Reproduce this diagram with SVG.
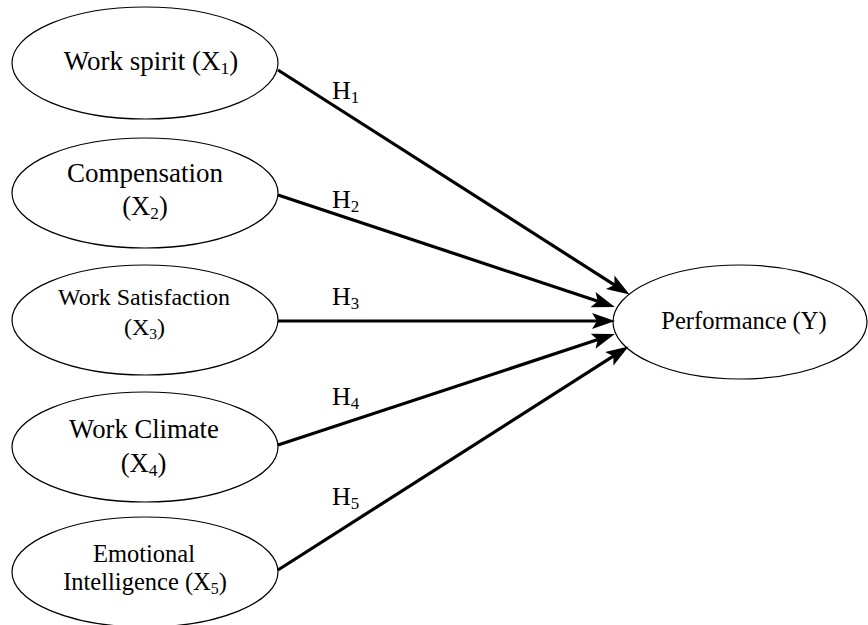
<svg xmlns="http://www.w3.org/2000/svg" width="868" height="625" viewBox="0 0 868 625">
<style>
  .node ellipse { fill: #ffffff; stroke: #000000; stroke-width: 1.2; }
  text { font-family: "Liberation Serif", "Times New Roman", serif; fill: #000000; text-anchor: middle; }
  .sub { font-size: 0.65em; }
  .conn line { stroke: #000000; stroke-width: 3.2; }
  .lbl { font-size: 26px; text-anchor: start; }
</style>
<defs>
  <marker id="arrow" markerUnits="userSpaceOnUse" markerWidth="24" markerHeight="18" refX="10" refY="8" orient="auto">
    <path d="M0,0 L23,8 L0,16 L5,8 z" fill="#000000"/>
  </marker>
</defs>
<rect width="868" height="625" fill="#ffffff"/>
<g id="x1" class="node">
  <ellipse cx="145" cy="63" rx="133" ry="56"/>
  <text x="151" y="70" font-size="27">Work spirit (X<tspan class="sub" dy="4">1</tspan><tspan dy="-4">)</tspan></text>
</g>
<g id="x2" class="node">
  <ellipse cx="145" cy="193" rx="133" ry="55"/>
  <text x="145" y="182" font-size="27">Compensation</text>
  <text x="145" y="215" font-size="26.5">(X<tspan class="sub" dy="4">2</tspan><tspan dy="-4">)</tspan></text>
</g>
<g id="x3" class="node">
  <ellipse cx="145" cy="320" rx="133" ry="55"/>
  <text x="144" y="305" font-size="24">Work Satisfaction</text>
  <text x="144.5" y="335" font-size="24">(X<tspan class="sub" dy="4">3</tspan><tspan dy="-4">)</tspan></text>
</g>
<g id="x4" class="node">
  <ellipse cx="145" cy="447" rx="133" ry="55"/>
  <text x="144" y="438" font-size="26.7">Work Climate</text>
  <text x="143.5" y="472" font-size="26.7">(X<tspan class="sub" dy="4">4</tspan><tspan dy="-4">)</tspan></text>
</g>
<g id="x5" class="node">
  <ellipse cx="145" cy="572" rx="133" ry="55"/>
  <text x="144" y="562" font-size="24.5">Emotional</text>
  <text x="145" y="590" font-size="24.5">Intelligence (X<tspan class="sub" dy="4">5</tspan><tspan dy="-4">)</tspan></text>
</g>
<g id="y" class="node">
  <ellipse cx="740" cy="322" rx="127" ry="57"/>
  <text x="744" y="329" font-size="24.5">Performance (Y)</text>
</g>
<g id="connectors" class="conn">
  <line x1="278" y1="70" x2="618.6" y2="287.6" marker-end="url(#arrow)"/>
  <line x1="278" y1="195" x2="602.5" y2="302.8" marker-end="url(#arrow)"/>
  <line x1="278" y1="321" x2="602" y2="321" marker-end="url(#arrow)"/>
  <line x1="278" y1="445" x2="602.5" y2="338.1" marker-end="url(#arrow)"/>
  <line x1="278" y1="570" x2="617.6" y2="353.4" marker-end="url(#arrow)"/>
</g>
<g id="labels">
  <text class="lbl" x="332" y="99">H<tspan class="sub" dy="4">1</tspan></text>
  <text class="lbl" x="332" y="208">H<tspan class="sub" dy="4">2</tspan></text>
  <text class="lbl" x="332" y="305">H<tspan class="sub" dy="4">3</tspan></text>
  <text class="lbl" x="332" y="405">H<tspan class="sub" dy="4">4</tspan></text>
  <text class="lbl" x="332" y="505">H<tspan class="sub" dy="4">5</tspan></text>
</g>
</svg>
